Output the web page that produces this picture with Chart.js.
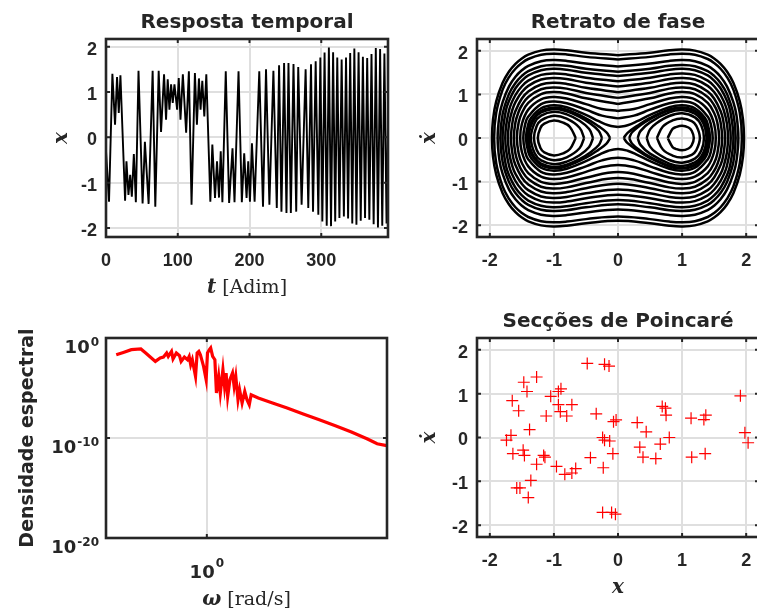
<!DOCTYPE html>
<html>
<head>
<meta charset="utf-8">
<script src="https://cdn.jsdelivr.net/npm/chart.js@4.4.1/dist/chart.umd.min.js"></script>
<style>
  html, body { margin: 0; padding: 0; background: #fff; }
  body { width: 757px; height: 612px; position: relative; overflow: hidden; }
  canvas { position: absolute; }
</style>
</head>
<body>
<canvas id="cTime"></canvas>
<canvas id="cPhase"></canvas>
<canvas id="cPsd"></canvas>
<canvas id="cPoinc"></canvas>
<script>
// ---- time response x(t) (turning points) ----
const tSeries = [0,4.2,8.9,12.6,15.4,17.8,20.1,26.6,28.5,31.3,33.7,36.0,38.8,41.6,45.3,51.0,54.2,59.4,65.0,68.7,73.4,76.7,80.9,83.7,86.0,88.4,90.7,93.0,95.4,
  99.1,101.4,103.8,107.1,111.7,115.5,119.2,123.9,126.7,129.5,131.8,134.2,137.0,139.8,145.4,148.2,151.9,154.7,157.5,159.9,162.2,166.9,171.6,176.3,179.1,184.7,189.3,192.6,195.9,198.2,200.6,
  203.4,207.1,213.6,218.8,223.0,227.7,233.3,238.0,241.2,244.5,248.2,251.5,254.3,257.6,261.3,265.1,267.9,272.6,278.2,281.9,285.7,288.5,292.2,295.9,298.7,301.5,
  304.6,307.6,310.6,313.6,316.5,319.4,322.3,325.3,328.4,331.5,334.5,337.4,340.3,343.2,346.1,349.0,352.0,355.0,358.0,361.0,364.0,367.0,370.0,373.0,376.0,379.0,382.0,385.0,388.0,391.0,393.0];
const xSeries = [-0.30,-1.42,1.40,0.28,1.33,0.54,1.37,-1.40,-0.53,-1.27,-0.83,-1.31,-0.37,-1.43,1.47,-1.46,-0.10,-1.47,1.47,-1.53,1.47,0.12,1.39,0.39,1.28,0.61,1.17,0.76,1.17,
  0.61,1.31,0.39,1.39,0.10,1.46,-1.49,1.42,0.28,1.30,0.61,1.25,0.46,1.39,-1.42,-0.16,-1.34,-0.53,-1.33,-0.31,-1.43,1.46,-1.45,-0.24,-1.43,1.46,-1.43,-0.35,-1.34,-0.53,-1.42,
  -0.13,-1.42,1.46,-1.53,1.50,-1.49,1.47,-1.56,1.59,-1.64,1.64,-1.67,1.64,-1.67,1.62,-1.64,1.55,-1.49,1.50,-1.56,1.61,-1.64,1.68,-1.71,1.76,-1.86,
  1.87,-1.95,1.98,-1.96,1.88,-1.86,1.76,-1.78,1.72,-1.75,1.76,-1.79,1.86,-1.90,1.96,-1.93,1.88,-1.84,1.78,-1.78,1.75,-1.82,1.84,-1.92,1.97,-1.99,1.95,-1.95,1.85,-1.90,0.30];

// ---- phase portrait: orbits ----
// outer orbits: upper-right quarter [x, xdot, x, xdot, ...] from x = 0 to the turning point
const phaseOuter = [
  [0,1.90, 0.5,1.957, 0.8,2.011, 1.0,2.027, 1.2,2.003, 1.4,1.910, 1.5,1.825, 1.6,1.701, 1.7,1.524, 1.8,1.265, 1.9,0.839, 1.95,0.428, 1.966,0],
  [0,1.80, 0.5,1.860, 0.8,1.917, 1.0,1.934, 1.2,1.909, 1.4,1.811, 1.5,1.720, 1.6,1.588, 1.7,1.398, 1.8,1.110, 1.9,0.578, 1.933,0],
  [0,1.64, 0.5,1.706, 0.8,1.768, 1.0,1.786, 1.2,1.759, 1.4,1.652, 1.5,1.552, 1.6,1.405, 1.7,1.185, 1.8,0.825, 1.85,0.506, 1.878,0],
  [0,1.52, 0.5,1.590, 0.8,1.657, 1.0,1.676, 1.2,1.647, 1.4,1.533, 1.5,1.424, 1.6,1.262, 1.7,1.012, 1.8,0.549, 1.836,0],
  [0,1.42, 0.5,1.495, 0.8,1.566, 1.0,1.586, 1.2,1.555, 1.4,1.434, 1.5,1.317, 1.6,1.140, 1.7,0.854, 1.75,0.624, 1.801,0],
  [0,1.30, 0.5,1.382, 0.8,1.458, 1.0,1.480, 1.2,1.447, 1.4,1.315, 1.5,1.187, 1.6,0.986, 1.7,0.636, 1.759,0],
  [0,1.18, 0.5,1.269, 0.8,1.352, 1.0,1.375, 1.2,1.340, 1.4,1.196, 1.5,1.054, 1.6,0.822, 1.65,0.639, 1.7,0.326, 1.716,0],
  [0,1.05, 0.5,1.150, 0.8,1.240, 1.0,1.266, 1.2,1.227, 1.4,1.068, 1.5,0.906, 1.6,0.621, 1.64,0.419, 1.670,0],
  [0,0.92, 0.5,1.032, 0.8,1.132, 1.0,1.160, 1.2,1.118, 1.4,0.941, 1.5,0.752, 1.55,0.602, 1.6,0.360, 1.625,0],
  [0,0.78, 0.5,0.910, 0.8,1.021, 1.0,1.053, 1.2,1.006, 1.4,0.805, 1.5,0.572, 1.55,0.353, 1.578,0],
  [0,0.62, 0.25,0.667, 0.5,0.777, 0.8,0.905, 1.0,0.940, 1.2,0.887, 1.4,0.651, 1.5,0.321, 1.526,0],
  [0,0.45, 0.25,0.513, 0.5,0.649, 0.8,0.798, 1.0,0.838, 1.2,0.778, 1.4,0.491, 1.45,0.307, 1.478,0],
  [0,0.25, 0.15,0.291, 0.3,0.385, 0.5,0.531, 0.8,0.705, 1.0,0.750, 1.2,0.682, 1.35,0.473, 1.4,0.319, 1.4355,0]
];
// orbits inside one well: upper half [x, xdot, ...] between the two turning points
const phaseWellRight = [
  [0.775,0, 0.85,0.204, 0.9,0.249, 1.0,0.283, 1.1,0.241, 1.15,0.167, 1.183,0],
  [0.607,0, 0.7,0.264, 0.85,0.402, 1.0,0.447, 1.15,0.385, 1.22,0.284, 1.278,0],
  [0.447,0, 0.5,0.197, 0.6,0.339, 0.8,0.505, 1.0,0.566, 1.2,0.472, 1.3,0.286, 1.342,0],
  [0.307,0, 0.35,0.158, 0.5,0.359, 0.8,0.587, 1.0,0.640, 1.2,0.559, 1.3,0.415, 1.36,0.221, 1.380,0],
  [0.175,0, 0.22,0.131, 0.35,0.292, 0.5,0.435, 0.8,0.636, 1.0,0.686, 1.2,0.611, 1.3,0.482, 1.38,0.247, 1.403,0],
  [0.089,0, 0.15,0.119, 0.3,0.279, 0.5,0.459, 0.8,0.653, 1.0,0.701, 1.2,0.628, 1.35,0.392, 1.40,0.176, 1.411,0]
];
const phaseWellLeft = [
  [-0.659,0, -0.75,0.253, -0.85,0.349, -1.0,0.400, -1.15,0.329, -1.21,0.229, -1.251,0],
  [-0.528,0, -0.6,0.235, -0.8,0.442, -1.0,0.510, -1.2,0.404, -1.27,0.268, -1.312,0],
  [-0.389,0, -0.45,0.205, -0.6,0.394, -0.8,0.543, -1.0,0.600, -1.2,0.513, -1.3,0.349, -1.36,0],
  [-0.249,0, -0.3,0.161, -0.45,0.349, -0.6,0.485, -0.8,0.612, -1.0,0.663, -1.2,0.586, -1.3,0.449, -1.37,0.236, -1.392,0],
  [-0.1225,0, -0.18,0.130, -0.3,0.266, -0.5,0.452, -0.8,0.648, -1.0,0.696, -1.2,0.623, -1.35,0.383, -1.40,0.155, -1.409,0]
];

// ---- spectral density (log10 of value) ----
const omega = [0.339,0.369,0.406,0.455,0.482,0.541,0.573,0.596,0.619,0.631,0.656,0.668,0.695,0.722,0.736,0.765,0.794,0.810,0.825,0.841,0.874,0.891,0.909,0.926,0.962,0.992,1.008,1.031,1.047,1.072,1.101,1.122,1.152,1.175,1.212,1.236,1.259,1.283,1.318,1.359,1.386,1.413,1.451,1.479,1.524,1.573,1.615,1.660,1.698,1.849,2.154,2.610,3.162,3.831,4.642,5.623,6.813,7.643,8.577];
const psdLog10 = [-1.67,-1.44,-1.17,-1.10,-1.50,-2.34,-2.00,-1.90,-1.50,-1.84,-1.34,-2.10,-1.50,-1.77,-2.34,-1.90,-2.17,-1.84,-2.67,-2.17,-3.84,-1.50,-1.34,-1.67,-2.84,-4.17,-1.50,-1.17,-1.00,-1.84,-2.17,-5.50,-3.84,-5.50,-3.17,-4.84,-3.50,-5.84,-4.17,-3.50,-4.84,-3.84,-6.17,-5.17,-6.50,-5.34,-6.17,-6.67,-5.67,-6.00,-6.44,-7.00,-7.60,-8.17,-8.77,-9.40,-10.10,-10.57,-10.77];

// ---- Poincaré section ----
const pcX = [-0.48,-0.21,-0.14,-1.27,-1.47,-1.42,-0.89,-0.93,-1.05,-1.65,-1.55,-0.93,-0.72,-1.12,-0.90,-0.80,-0.34,-0.07,-0.03,-1.38,-1.67,-1.74,-1.64,-1.48,-1.46,-1.16,-1.14,-1.27,-0.96,-0.83,-0.72,-0.66,-0.43,-0.23,-0.24,-0.21,-0.13,-0.08,-1.36,-1.58,-1.53,-1.40,-0.24,-0.10,-0.04,0.30,0.44,0.34,0.39,0.59,0.66,0.80,0.69,0.74,0.75,1.14,1.34,1.37,1.15,1.36,1.91,1.98,2.03];
const pcY = [1.69,1.67,1.63,1.38,1.26,1.05,1.11,1.05,0.94,0.84,0.61,0.75,0.75,0.49,0.59,0.49,0.54,0.36,0.40,0.18,0.05,-0.06,-0.37,-0.29,-0.41,-0.41,-0.45,-0.61,-0.66,-0.84,-0.81,-0.71,-0.46,-0.69,0.00,-0.06,-0.08,-0.37,-0.98,-1.15,-1.15,-1.37,-1.71,-1.71,-1.75,0.34,0.13,-0.22,-0.45,-0.48,-0.15,0.00,0.71,0.67,0.51,0.44,0.41,0.51,-0.45,-0.37,0.95,0.11,-0.12];

// ticks
const tTicks = [0, 100, 200, 300];
const unitTicks = [-2, -1, 0, 1, 2];
const psdYTicks = [1e-20, 1e-10, 1];
const psdXTicks = [1];

const INK = '#262626', GRID = '#dfdfdf', RED = '#ff0000';
const SANS = '"Liberation Sans", Arial, Helvetica, sans-serif';
const DSANS = '"DejaVu Sans", sans-serif';
const SERIF = '"DejaVu Serif", "Liberation Serif", serif';
const VAR = 'italic bold 20px ' + SERIF;

// canvas frame around each axes box
const PAD_L = 100, PAD_T = 45, PAD_R = 20, PAD_B = 75, YW = 50, XH = 30;

function place(id, box) {
  const c = document.getElementById(id);
  const w = box[2] - box[0] + PAD_L + PAD_R, h = box[3] - box[1] + PAD_T + PAD_B;
  c.width = w; c.height = h;
  c.style.left = (box[0] - PAD_L) + 'px';
  c.style.top = (box[1] - PAD_T) + 'px';
  c.style.width = w + 'px'; c.style.height = h + 'px';
  return c;
}

function rich(ctx, parts, x, y) {
  let w = 0;
  parts.forEach(p => { ctx.font = p[1]; w += ctx.measureText(p[0]).width; });
  let cx = x - w / 2;
  ctx.textAlign = 'left';
  parts.forEach(p => { ctx.font = p[1]; ctx.fillText(p[0], cx, y); cx += ctx.measureText(p[0]).width; });
}

const matlabLook = {
  id: 'matlabLook',
  afterDraw(chart, args, o) {
    const ctx = chart.ctx, a = chart.chartArea;
    const sx = chart.scales.x, sy = chart.scales.y;
    ctx.save();
    ctx.strokeStyle = INK; ctx.fillStyle = INK;
    ctx.lineWidth = 2;
    ctx.beginPath();
    sx.ticks.forEach(t => {
      const p = sx.getPixelForValue(t.value);
      ctx.moveTo(p, a.bottom); ctx.lineTo(p, a.bottom - 4);
      ctx.moveTo(p, a.top); ctx.lineTo(p, a.top + 4);
    });
    sy.ticks.forEach(t => {
      const p = sy.getPixelForValue(t.value);
      ctx.moveTo(a.left, p); ctx.lineTo(a.left + 4, p);
      ctx.moveTo(a.right, p); ctx.lineTo(a.right - 4, p);
    });
    ctx.stroke();
    ctx.lineWidth = 2.6;
    ctx.strokeRect(a.left, a.top, a.right - a.left, a.bottom - a.top);

    if (o.log) {
      const big = 'bold 18px ' + DSANS, small = 'bold 12px ' + DSANS;
      ctx.textBaseline = 'alphabetic'; ctx.textAlign = 'left';
      sy.ticks.forEach(t => {
        const p = sy.getPixelForValue(t.value), e = String(Math.round(Math.log10(t.value)));
        ctx.font = small; const we = ctx.measureText(e).width;
        ctx.fillText(e, a.left - 7 - we, p + 8);
        ctx.font = big; const wb = ctx.measureText('10').width;
        ctx.fillText('10', a.left - 8 - we - wb, p + 15);
      });
      sx.ticks.forEach(t => {
        const p = sx.getPixelForValue(t.value), e = String(Math.round(Math.log10(t.value)));
        ctx.font = small; const we = ctx.measureText(e).width;
        ctx.font = big; const wb = ctx.measureText('10').width;
        const x0 = p - (wb + we + 1) / 2;
        ctx.fillText('10', x0, a.bottom + 40);
        ctx.font = small; ctx.fillText(e, x0 + wb + 1, a.bottom + 29);
      });
    } else {
      ctx.font = 'bold 18px ' + SANS;
      ctx.textAlign = 'right'; ctx.textBaseline = 'middle';
      sy.ticks.forEach(t => ctx.fillText(String(t.value), a.left - 9, sy.getPixelForValue(t.value) + 3));
      ctx.textAlign = 'center'; ctx.textBaseline = 'alphabetic';
      sx.ticks.forEach(t => ctx.fillText(String(t.value), sx.getPixelForValue(t.value), a.bottom + 29));
    }

    ctx.font = 'bold 20px ' + DSANS;
    ctx.textAlign = 'center'; ctx.textBaseline = 'alphabetic';
    ctx.fillText(o.title, (a.left + a.right) / 2, a.top - 11);

    ctx.textBaseline = 'alphabetic';
    rich(ctx, o.xlabel, (a.left + a.right) / 2, a.bottom + o.xGap);

    ctx.translate(a.left - o.yGap, (a.top + a.bottom) / 2);
    ctx.rotate(-Math.PI / 2);
    ctx.textBaseline = 'middle';
    rich(ctx, o.ylabel, 0, 0);
    ctx.restore();
  }
};

function axis(min, max, ticks, type, isX) {
  return {
    type: type || 'linear', min: min, max: max,
    afterBuildTicks: s => { s.ticks = ticks.map(v => ({ value: v })); },
    afterFit: s => { if (isX) s.height = XH; else s.width = YW; },
    grid: { color: GRID, lineWidth: 2, drawTicks: false },
    border: { display: false },
    ticks: { display: false }
  };
}

function baseOptions(xs, ys, look) {
  return {
    responsive: false, devicePixelRatio: 1, animation: false,
    layout: { padding: { left: PAD_L - YW, top: PAD_T, right: PAD_R, bottom: PAD_B - XH } },
    scales: { x: xs, y: ys },
    plugins: { legend: { display: false }, tooltip: { enabled: false }, matlabLook: look },
    elements: { point: { radius: 0 } }
  };
}

// closed orbit from an upper-right quarter
function orbitFromQuarter(q) {
  const p = [];
  for (let i = 0; i < q.length; i += 2) p.push([q[i], q[i + 1]]);
  const pts = [];
  p.forEach(v => pts.push({ x: v[0], y: v[1] }));
  for (let i = p.length - 2; i >= 0; i--) pts.push({ x: p[i][0], y: -p[i][1] });
  for (let i = 1; i < p.length; i++) pts.push({ x: -p[i][0], y: -p[i][1] });
  for (let i = p.length - 2; i >= 0; i--) pts.push({ x: -p[i][0], y: p[i][1] });
  return pts;
}
// closed orbit from an upper half
function orbitFromHalf(h) {
  const p = [];
  for (let i = 0; i < h.length; i += 2) p.push([h[i], h[i + 1]]);
  const pts = p.map(v => ({ x: v[0], y: v[1] }));
  for (let i = p.length - 2; i >= 0; i--) pts.push({ x: p[i][0], y: -p[i][1] });
  return pts;
}

// 1) time response
new Chart(place('cTime', [106, 39, 388, 237]), {
  type: 'line',
  data: { datasets: [{
    data: tSeries.map((t, i) => ({ x: t, y: xSeries[i] })),
    borderColor: '#000', borderWidth: 1.9, tension: 0, pointRadius: 0
  }] },
  options: baseOptions(axis(0, 393, tTicks, 'linear', true), axis(-2.2, 2.17, unitTicks), {
    title: 'Resposta temporal',
    xlabel: [['t', VAR], [' [Adim]', '19px ' + SERIF]], xGap: 56,
    ylabel: [['x', VAR]], yGap: 44
  }),
  plugins: [matlabLook]
});

// 2) phase portrait
const phaseSets = []
  .concat(phaseOuter.map(orbitFromQuarter))
  .concat(phaseWellRight.map(orbitFromHalf))
  .concat(phaseWellLeft.map(orbitFromHalf))
  .map(pts => ({ data: pts, borderColor: '#000', borderWidth: 2.5, tension: 0.4, pointRadius: 0 }));
new Chart(place('cPhase', [477, 39, 759, 237]), {
  type: 'line',
  data: { datasets: phaseSets },
  options: baseOptions(axis(-2.2, 2.2, unitTicks, 'linear', true), axis(-2.27, 2.27, unitTicks), {
    title: 'Retrato de fase',
    xlabel: [], xGap: 56,
    ylabel: [['ẋ', VAR]], yGap: 47
  }),
  plugins: [matlabLook]
});

// 3) spectral density
new Chart(place('cPsd', [106, 338, 387, 538]), {
  type: 'line',
  data: { datasets: [{
    data: omega.map((w, i) => ({ x: w, y: Math.pow(10, psdLog10[i]) })),
    borderColor: RED, borderWidth: 3.2, tension: 0, pointRadius: 0
  }] },
  options: baseOptions(axis(0.339, 8.6, psdXTicks, 'logarithmic', true), axis(1e-20, 1, psdYTicks, 'logarithmic'), {
    log: true, title: '',
    xlabel: [['ω', VAR], [' [rad/s]', '19px ' + SERIF]], xGap: 67,
    ylabel: [['Densidade espectral', 'bold 19px ' + DSANS]], yGap: 78
  }),
  plugins: [matlabLook]
});

// 4) Poincaré section
new Chart(place('cPoinc', [477, 338, 759, 537]), {
  type: 'scatter',
  data: { datasets: [{
    data: pcX.map((x, i) => ({ x: x, y: pcY[i] })),
    pointStyle: 'cross', pointRadius: 6, borderColor: RED, backgroundColor: RED, borderWidth: 1.2
  }] },
  options: Object.assign(baseOptions(axis(-2.2, 2.2, unitTicks, 'linear', true), axis(-2.27, 2.27, unitTicks), {
    title: 'Secções de Poincaré',
    xlabel: [['x', VAR]], xGap: 56,
    ylabel: [['ẋ', VAR]], yGap: 47
  }), { elements: { point: { radius: 6 } } }),
  plugins: [matlabLook]
});
</script>
</body>
</html>
